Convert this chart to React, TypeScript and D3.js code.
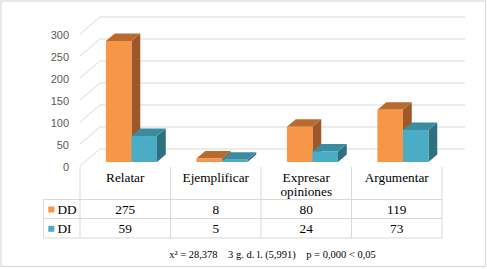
import React from "react";
import * as d3 from "d3";

const categories = ["Relatar", "Ejemplificar", "Expresar\nopiniones", "Argumentar"];
const seriesNames = ["DD", "DI"];
const ddValues = [275, 8, 80, 119];
const diValues = [59, 5, 24, 73];
const yTicks = [0, 50, 100, 150, 200, 250, 300];
const footer = "x² = 28,378    3 g. d. l. (5,991)    p = 0,000 < 0,05";

const W = 487;
const H = 269;
const frontColors = ["#f79646", "#4bacc6"];
const topColors = ["#b96a30", "#3a8ca1"];
const sideColors = ["#9e5726", "#2e6f80"];

export default function App() {
  const x = d3.scaleBand<string>().domain(categories).range([80, 442]).paddingInner(0).paddingOuter(0);
  const y = d3.scaleLinear().domain([0, 300]).range([166, 34]);
  const depthX = 20;
  const depthY = -17;
  const barStart = 0.235;
  const barDepth = 0.44;
  const bw = x.bandwidth() * 0.282;
  const series = [ddValues, diValues];
  const serifStyle = { fontFamily: "Liberation Serif" };
  const sansStyle = { fontFamily: "Liberation Sans" };
  const grid = "#d9d9d9";

  const bars: React.ReactNode[] = [];
  categories.forEach((c, ci) => {
    const cx = (x(c) as number) + x.bandwidth() / 2 + depthX * barStart + 1.5;
    series.forEach((vals, si) => {
      const x0 = cx - bw + si * bw;
      const x1 = x0 + bw;
      const yb = y(0) + depthY * barStart;
      const yt = y(vals[ci]) + depthY * barStart;
      const ddx = depthX * barDepth;
      const ddy = depthY * barDepth;
      bars.push(
        <g key={c + si}>
          <polygon
            points={`${x1},${yt} ${x1 + ddx},${yt + ddy} ${x1 + ddx},${yb + ddy} ${x1},${yb}`}
            fill={sideColors[si]}
          />
          <polygon
            points={`${x0},${yt} ${x0 + ddx},${yt + ddy} ${x1 + ddx},${yt + ddy} ${x1},${yt}`}
            fill={topColors[si]}
          />
          <rect x={x0} y={yt} width={bw} height={yb - yt} fill={frontColors[si]} />
        </g>
      );
    });
  });

  const tableTop = 167;
  const rowLines = [199.5, 218.5, 238];
  const colEdges = [...categories.map((c) => x(c) as number), 442];

  return (
    <svg width={W} height={H} style={{ position: "absolute", left: 0, top: 0 }}>
      <rect x={0} y={0} width={W} height={H} fill="#ffffff" />
      <rect x={1} y={1} width={484.5} height={265.5} fill="none" stroke={grid} strokeWidth={1.2} />
      {yTicks.map((t) => (
        <g key={t}>
          <line x1={80 + depthX} x2={442 + depthX + 3} y1={y(t) + depthY} y2={y(t) + depthY} stroke={grid} strokeWidth={1} />
          <line x1={80} x2={80 + depthX} y1={y(t)} y2={y(t) + depthY} stroke={grid} strokeWidth={1} />
          <text x={69} y={y(t) + 5} textAnchor="end" style={sansStyle} fontSize={11} fill="#595959">
            {t}
          </text>
        </g>
      ))}
      {bars}
      {colEdges.map((cx, i) => (
        <line key={"v" + i} x1={cx} x2={cx} y1={tableTop} y2={rowLines[2]} stroke={grid} strokeWidth={1} />
      ))}
      <line x1={43.5} x2={43.5} y1={rowLines[0]} y2={rowLines[2]} stroke={grid} strokeWidth={1} />
      {rowLines.map((ry, i) => (
        <line key={"h" + i} x1={43.5} x2={442} y1={ry} y2={ry} stroke={grid} strokeWidth={1} />
      ))}
      {categories.map((c) => {
        const lines = c.split("\n");
        const cx = (x(c) as number) + x.bandwidth() / 2;
        return (
          <text key={c} x={cx} y={181.7} textAnchor="middle" style={serifStyle} fontSize={13.3} fill="#000">
            {lines.map((l, li) => (
              <tspan key={li} x={cx} dy={li === 0 ? 0 : 14}>
                {l}
              </tspan>
            ))}
          </text>
        );
      })}
      {series.map((vals, si) => {
        const base = si === 0 ? 214 : 233.3;
        return (
          <g key={"row" + si}>
            <rect x={48.3} y={base - 7.5} width={6} height={6} fill={frontColors[si]} />
            <text x={57.5} y={base} style={serifStyle} fontSize={13.3} fill="#000">
              {seriesNames[si]}
            </text>
            {vals.map((v, ci) => (
              <text
                key={ci}
                x={(x(categories[ci]) as number) + x.bandwidth() / 2}
                y={base}
                textAnchor="middle"
                style={serifStyle}
                fontSize={13.3}
                fill="#000"
              >
                {v}
              </text>
            ))}
          </g>
        );
      })}
      <text x={272.5} y={257.5} textAnchor="middle" style={{ ...serifStyle, whiteSpace: "pre" }} fontSize={10.5} fill="#000">
        {footer}
      </text>
    </svg>
  );
}
